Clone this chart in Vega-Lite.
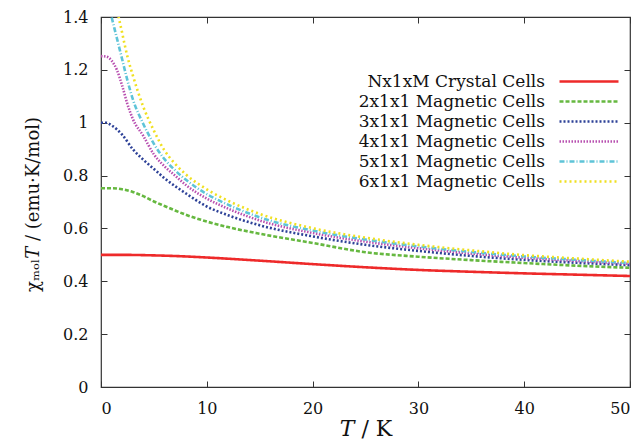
{
  "$schema": "https://vega.github.io/schema/vega-lite/v6.json",
  "width": 529,
  "height": 370,
  "autosize": "none",
  "padding": {"left": 101, "top": 17, "right": 12, "bottom": 58},
  "background": "white",
  "config": {
    "view": {"stroke": "#333333", "strokeWidth": 1.2},
    "font": "DejaVu Serif"
  },
  "datasets": {
    "curves": [
      {"T": 0, "v": 0.500, "s": "Nx1xM Crystal Cells"},
      {"T": 2, "v": 0.500, "s": "Nx1xM Crystal Cells"},
      {"T": 5, "v": 0.498, "s": "Nx1xM Crystal Cells"},
      {"T": 8, "v": 0.494, "s": "Nx1xM Crystal Cells"},
      {"T": 10, "v": 0.490, "s": "Nx1xM Crystal Cells"},
      {"T": 15, "v": 0.478, "s": "Nx1xM Crystal Cells"},
      {"T": 20, "v": 0.465, "s": "Nx1xM Crystal Cells"},
      {"T": 25, "v": 0.453, "s": "Nx1xM Crystal Cells"},
      {"T": 30, "v": 0.443, "s": "Nx1xM Crystal Cells"},
      {"T": 35, "v": 0.436, "s": "Nx1xM Crystal Cells"},
      {"T": 40, "v": 0.430, "s": "Nx1xM Crystal Cells"},
      {"T": 45, "v": 0.425, "s": "Nx1xM Crystal Cells"},
      {"T": 50, "v": 0.420, "s": "Nx1xM Crystal Cells"},

      {"T": 0, "v": 0.752, "s": "2x1x1 Magnetic Cells"},
      {"T": 1, "v": 0.752, "s": "2x1x1 Magnetic Cells"},
      {"T": 2, "v": 0.748, "s": "2x1x1 Magnetic Cells"},
      {"T": 3, "v": 0.738, "s": "2x1x1 Magnetic Cells"},
      {"T": 4, "v": 0.722, "s": "2x1x1 Magnetic Cells"},
      {"T": 5, "v": 0.702, "s": "2x1x1 Magnetic Cells"},
      {"T": 6, "v": 0.685, "s": "2x1x1 Magnetic Cells"},
      {"T": 7, "v": 0.668, "s": "2x1x1 Magnetic Cells"},
      {"T": 8, "v": 0.652, "s": "2x1x1 Magnetic Cells"},
      {"T": 10, "v": 0.626, "s": "2x1x1 Magnetic Cells"},
      {"T": 12, "v": 0.605, "s": "2x1x1 Magnetic Cells"},
      {"T": 15, "v": 0.580, "s": "2x1x1 Magnetic Cells"},
      {"T": 20, "v": 0.545, "s": "2x1x1 Magnetic Cells"},
      {"T": 25, "v": 0.510, "s": "2x1x1 Magnetic Cells"},
      {"T": 30, "v": 0.493, "s": "2x1x1 Magnetic Cells"},
      {"T": 35, "v": 0.480, "s": "2x1x1 Magnetic Cells"},
      {"T": 40, "v": 0.469, "s": "2x1x1 Magnetic Cells"},
      {"T": 45, "v": 0.459, "s": "2x1x1 Magnetic Cells"},
      {"T": 50, "v": 0.451, "s": "2x1x1 Magnetic Cells"},

      {"T": 0, "v": 1.000, "s": "3x1x1 Magnetic Cells"},
      {"T": 0.5, "v": 1.000, "s": "3x1x1 Magnetic Cells"},
      {"T": 1, "v": 0.990, "s": "3x1x1 Magnetic Cells"},
      {"T": 2, "v": 0.955, "s": "3x1x1 Magnetic Cells"},
      {"T": 3, "v": 0.900, "s": "3x1x1 Magnetic Cells"},
      {"T": 4, "v": 0.860, "s": "3x1x1 Magnetic Cells"},
      {"T": 5, "v": 0.825, "s": "3x1x1 Magnetic Cells"},
      {"T": 6, "v": 0.790, "s": "3x1x1 Magnetic Cells"},
      {"T": 7, "v": 0.760, "s": "3x1x1 Magnetic Cells"},
      {"T": 8, "v": 0.733, "s": "3x1x1 Magnetic Cells"},
      {"T": 10, "v": 0.683, "s": "3x1x1 Magnetic Cells"},
      {"T": 12, "v": 0.650, "s": "3x1x1 Magnetic Cells"},
      {"T": 15, "v": 0.612, "s": "3x1x1 Magnetic Cells"},
      {"T": 20, "v": 0.570, "s": "3x1x1 Magnetic Cells"},
      {"T": 25, "v": 0.538, "s": "3x1x1 Magnetic Cells"},
      {"T": 30, "v": 0.515, "s": "3x1x1 Magnetic Cells"},
      {"T": 35, "v": 0.496, "s": "3x1x1 Magnetic Cells"},
      {"T": 40, "v": 0.481, "s": "3x1x1 Magnetic Cells"},
      {"T": 45, "v": 0.470, "s": "3x1x1 Magnetic Cells"},
      {"T": 50, "v": 0.461, "s": "3x1x1 Magnetic Cells"},

      {"T": 0, "v": 1.252, "s": "4x1x1 Magnetic Cells"},
      {"T": 0.5, "v": 1.250, "s": "4x1x1 Magnetic Cells"},
      {"T": 1, "v": 1.235, "s": "4x1x1 Magnetic Cells"},
      {"T": 1.5, "v": 1.200, "s": "4x1x1 Magnetic Cells"},
      {"T": 2, "v": 1.140, "s": "4x1x1 Magnetic Cells"},
      {"T": 2.5, "v": 1.070, "s": "4x1x1 Magnetic Cells"},
      {"T": 3, "v": 1.015, "s": "4x1x1 Magnetic Cells"},
      {"T": 4, "v": 0.950, "s": "4x1x1 Magnetic Cells"},
      {"T": 5, "v": 0.880, "s": "4x1x1 Magnetic Cells"},
      {"T": 6, "v": 0.835, "s": "4x1x1 Magnetic Cells"},
      {"T": 7, "v": 0.800, "s": "4x1x1 Magnetic Cells"},
      {"T": 8, "v": 0.765, "s": "4x1x1 Magnetic Cells"},
      {"T": 10, "v": 0.713, "s": "4x1x1 Magnetic Cells"},
      {"T": 12, "v": 0.675, "s": "4x1x1 Magnetic Cells"},
      {"T": 15, "v": 0.630, "s": "4x1x1 Magnetic Cells"},
      {"T": 20, "v": 0.583, "s": "4x1x1 Magnetic Cells"},
      {"T": 25, "v": 0.550, "s": "4x1x1 Magnetic Cells"},
      {"T": 30, "v": 0.525, "s": "4x1x1 Magnetic Cells"},
      {"T": 35, "v": 0.505, "s": "4x1x1 Magnetic Cells"},
      {"T": 40, "v": 0.489, "s": "4x1x1 Magnetic Cells"},
      {"T": 45, "v": 0.477, "s": "4x1x1 Magnetic Cells"},
      {"T": 50, "v": 0.466, "s": "4x1x1 Magnetic Cells"},

      {"T": 0, "v": 1.500, "s": "5x1x1 Magnetic Cells"},
      {"T": 0.5, "v": 1.480, "s": "5x1x1 Magnetic Cells"},
      {"T": 1, "v": 1.400, "s": "5x1x1 Magnetic Cells"},
      {"T": 1.5, "v": 1.320, "s": "5x1x1 Magnetic Cells"},
      {"T": 2, "v": 1.240, "s": "5x1x1 Magnetic Cells"},
      {"T": 2.5, "v": 1.160, "s": "5x1x1 Magnetic Cells"},
      {"T": 3, "v": 1.090, "s": "5x1x1 Magnetic Cells"},
      {"T": 4, "v": 0.995, "s": "5x1x1 Magnetic Cells"},
      {"T": 5, "v": 0.920, "s": "5x1x1 Magnetic Cells"},
      {"T": 6, "v": 0.862, "s": "5x1x1 Magnetic Cells"},
      {"T": 7, "v": 0.820, "s": "5x1x1 Magnetic Cells"},
      {"T": 8, "v": 0.785, "s": "5x1x1 Magnetic Cells"},
      {"T": 10, "v": 0.730, "s": "5x1x1 Magnetic Cells"},
      {"T": 12, "v": 0.690, "s": "5x1x1 Magnetic Cells"},
      {"T": 15, "v": 0.642, "s": "5x1x1 Magnetic Cells"},
      {"T": 20, "v": 0.592, "s": "5x1x1 Magnetic Cells"},
      {"T": 25, "v": 0.558, "s": "5x1x1 Magnetic Cells"},
      {"T": 30, "v": 0.532, "s": "5x1x1 Magnetic Cells"},
      {"T": 35, "v": 0.511, "s": "5x1x1 Magnetic Cells"},
      {"T": 40, "v": 0.494, "s": "5x1x1 Magnetic Cells"},
      {"T": 45, "v": 0.481, "s": "5x1x1 Magnetic Cells"},
      {"T": 50, "v": 0.469, "s": "5x1x1 Magnetic Cells"},

      {"T": 0, "v": 1.750, "s": "6x1x1 Magnetic Cells"},
      {"T": 0.5, "v": 1.730, "s": "6x1x1 Magnetic Cells"},
      {"T": 1, "v": 1.620, "s": "6x1x1 Magnetic Cells"},
      {"T": 1.5, "v": 1.440, "s": "6x1x1 Magnetic Cells"},
      {"T": 2, "v": 1.340, "s": "6x1x1 Magnetic Cells"},
      {"T": 2.5, "v": 1.250, "s": "6x1x1 Magnetic Cells"},
      {"T": 3, "v": 1.180, "s": "6x1x1 Magnetic Cells"},
      {"T": 4, "v": 1.060, "s": "6x1x1 Magnetic Cells"},
      {"T": 5, "v": 0.970, "s": "6x1x1 Magnetic Cells"},
      {"T": 6, "v": 0.895, "s": "6x1x1 Magnetic Cells"},
      {"T": 7, "v": 0.845, "s": "6x1x1 Magnetic Cells"},
      {"T": 8, "v": 0.805, "s": "6x1x1 Magnetic Cells"},
      {"T": 10, "v": 0.748, "s": "6x1x1 Magnetic Cells"},
      {"T": 12, "v": 0.705, "s": "6x1x1 Magnetic Cells"},
      {"T": 15, "v": 0.655, "s": "6x1x1 Magnetic Cells"},
      {"T": 20, "v": 0.601, "s": "6x1x1 Magnetic Cells"},
      {"T": 25, "v": 0.565, "s": "6x1x1 Magnetic Cells"},
      {"T": 30, "v": 0.538, "s": "6x1x1 Magnetic Cells"},
      {"T": 35, "v": 0.517, "s": "6x1x1 Magnetic Cells"},
      {"T": 40, "v": 0.499, "s": "6x1x1 Magnetic Cells"},
      {"T": 45, "v": 0.486, "s": "6x1x1 Magnetic Cells"},
      {"T": 50, "v": 0.474, "s": "6x1x1 Magnetic Cells"}
    ]
  },
  "data": {"name": "curves"},
  "layer": [
    {
      "mark": {"type": "line", "clip": true, "strokeWidth": 2.6, "interpolate": "monotone"},
      "encoding": {
        "x": {
          "field": "T", "type": "quantitative",
          "scale": {"domain": [0, 50], "nice": false},
          "axis": {
            "orient": "bottom", "values": [0, 10, 20, 30, 40, 50], "grid": false,
            "domain": false, "tickSize": -6, "tickColor": "#333333",
            "labelFont": "DejaVu Serif", "labelFontSize": 16, "labelColor": "#111111",
            "labelPadding": 19,
            "title": "𝑇 / K", "titleFont": "DejaVu Serif", "titleFontSize": 22,
            "titleFontWeight": "normal", "titleColor": "#111111", "titlePadding": 2
          }
        },
        "y": {
          "field": "v", "type": "quantitative",
          "scale": {"domain": [0, 1.4], "nice": false},
          "axis": {
            "orient": "left", "values": [0, 0.2, 0.4, 0.6, 0.8, 1, 1.2, 1.4], "grid": false,
            "domain": false, "tickSize": -6, "tickColor": "#333333", "format": "~g",
            "labelFont": "DejaVu Serif", "labelFontSize": 16, "labelColor": "#111111",
            "labelPadding": 19,
            "title": "χₘₒₗ𝑇 / (emu·K/mol)", "titleFont": "DejaVu Serif", "titleFontSize": 18,
            "titleFontWeight": "normal", "titleColor": "#111111",
            "titleX": -68, "titleY": 187, "titleBaseline": "middle", "titleAlign": "center", "titleAngle": -90
          }
        },
        "color": {
          "field": "s", "type": "nominal",
          "scale": {
            "domain": ["Nx1xM Crystal Cells", "2x1x1 Magnetic Cells", "3x1x1 Magnetic Cells", "4x1x1 Magnetic Cells", "5x1x1 Magnetic Cells", "6x1x1 Magnetic Cells"],
            "range": ["#ee2a2a", "#66b840", "#2e4298", "#b850b0", "#5ec4d8", "#f0e020"]
          },
          "legend": {
            "orient": "none", "legendX": 476.5, "legendY": 53, "title": null,
            "symbolType": "M-2.95,0L2.95,0", "symbolSize": 400, "symbolStrokeWidth": 2.6,
            "labelAlign": "right", "labelOffset": -55.5,
            "labelFont": "DejaVu Serif", "labelFontSize": 17, "labelColor": "#111111",
            "rowPadding": 0, "labelLimit": 400
          }
        },
        "strokeDash": {
          "field": "s", "type": "nominal",
          "scale": {
            "domain": ["Nx1xM Crystal Cells", "2x1x1 Magnetic Cells", "3x1x1 Magnetic Cells", "4x1x1 Magnetic Cells", "5x1x1 Magnetic Cells", "6x1x1 Magnetic Cells"],
            "range": [[1, 0], [4, 2], [2, 2], [1.5, 1.5], [5, 2, 1, 2], [2, 3]]
          },
          "legend": null
        }
      }
    },
    {
      "mark": {"type": "line", "opacity": 0, "clip": true},
      "encoding": {
        "x": {
          "field": "T", "type": "quantitative",
          "axis": {"orient": "top", "values": [0, 10, 20, 30, 40, 50], "grid": false, "domain": false, "labels": false, "title": null, "tickSize": -6, "tickColor": "#333333"}
        },
        "y": {
          "field": "v", "type": "quantitative",
          "axis": {"orient": "right", "values": [0, 0.2, 0.4, 0.6, 0.8, 1, 1.2, 1.4], "grid": false, "domain": false, "labels": false, "title": null, "tickSize": -6, "tickColor": "#333333"}
        },
        "detail": {"field": "s"}
      }
    }
  ],
  "resolve": {"axis": {"x": "independent", "y": "independent"}}
}
